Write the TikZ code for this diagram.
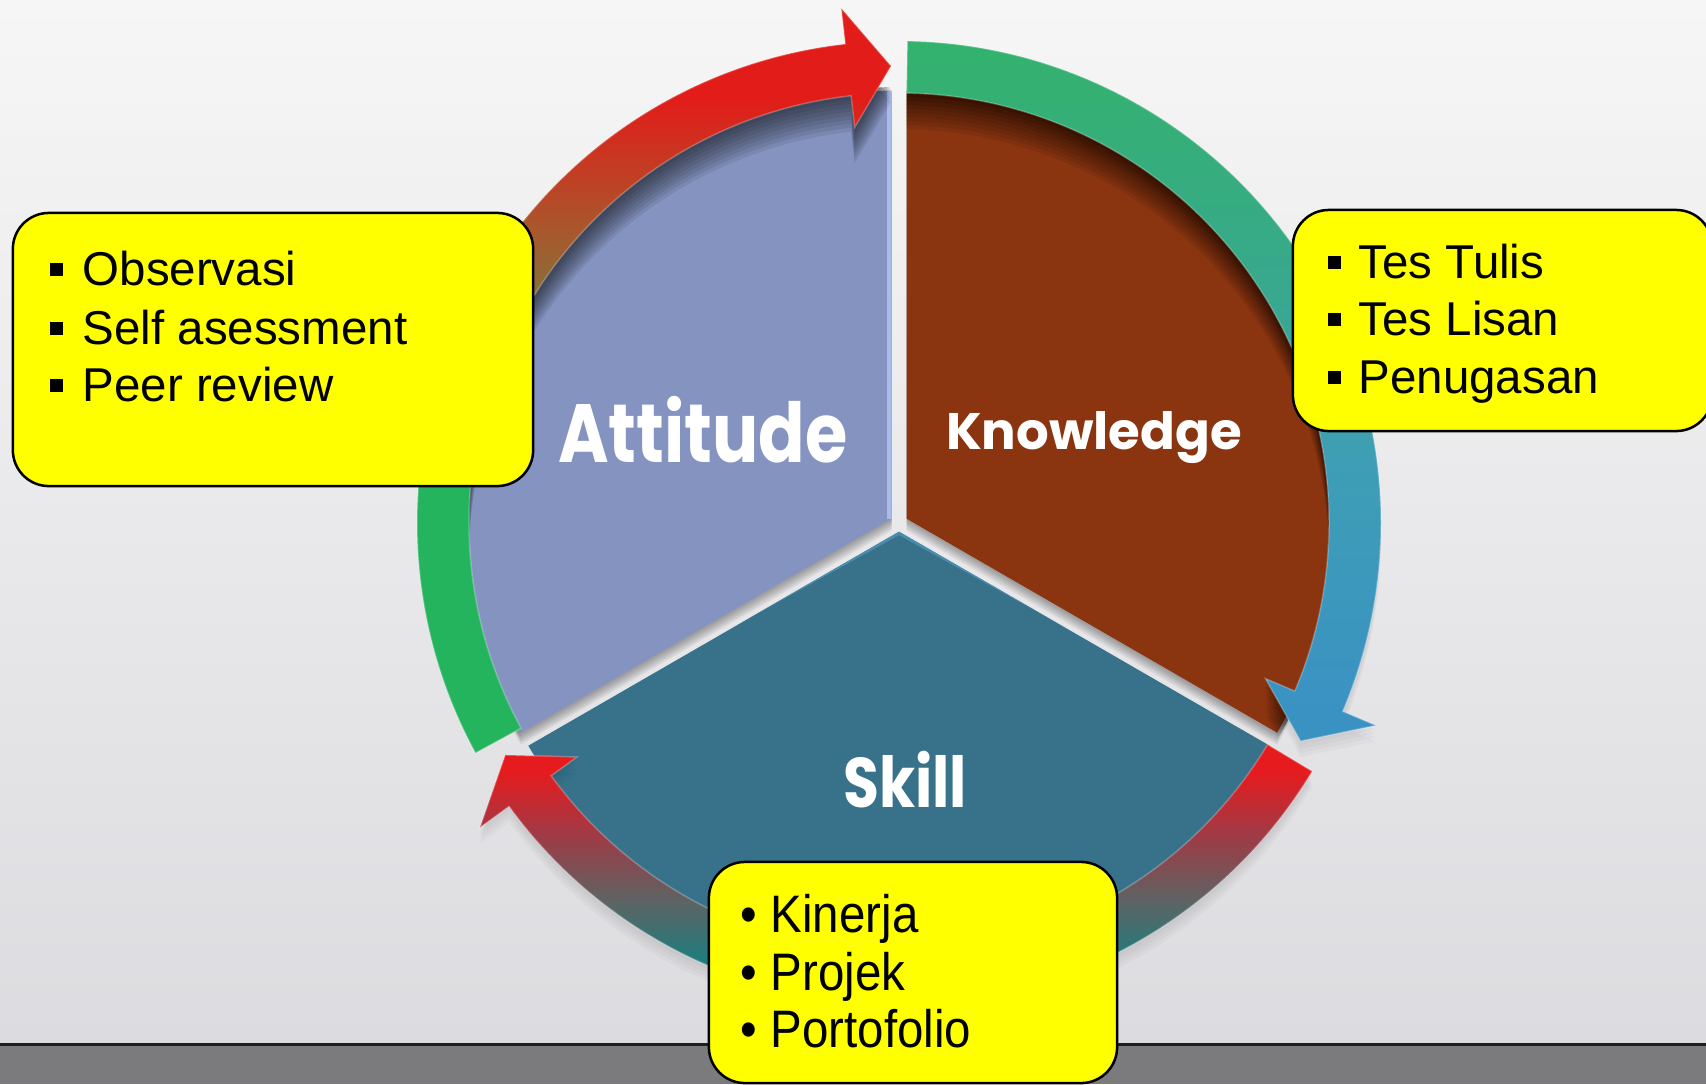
\documentclass[tikz,border=0pt]{standalone}
\usepackage{fontspec}
\setmainfont{Liberation Sans}
\newfontfamily\titlefont{Poppins}
\newfontfamily\titlecond{Poppins}[FakeStretch=0.83]
\newfontfamily\condfont{Liberation Sans}[FakeStretch=0.9]
\usetikzlibrary{calc}

\definecolor{bgtop}{HTML}{F6F6F6}
\definecolor{bgbot}{HTML}{DCDBDF}
\definecolor{floorc}{HTML}{7B7A7D}
\definecolor{floorline}{HTML}{1E1E1E}
\definecolor{attc}{HTML}{8493C0}
\definecolor{attedge}{HTML}{A9BBEA}
\definecolor{knoc}{HTML}{8A3410}
\definecolor{skic}{HTML}{37718A}
\definecolor{skiedge}{HTML}{4A8CAB}
\definecolor{boxy}{HTML}{FFFF00}

\definecolor{aGreen}{HTML}{25B45E}
\definecolor{aBrown}{HTML}{A8582C}
\definecolor{aRed}{HTML}{E21C19}
\pgfdeclareverticalshading{shadeA}{100bp}{color(0bp)=(aGreen); color(43bp)=(aGreen); color(60bp)=(aBrown); color(69bp)=(aRed); color(100bp)=(aRed)}

\definecolor{bBlue}{HTML}{3A92C3}
\definecolor{bTeal}{HTML}{3E9EB5}
\definecolor{bTealB}{HTML}{38A88E}
\definecolor{bGreen}{HTML}{33B26C}
\pgfdeclareverticalshading{shadeB}{100bp}{color(0bp)=(bBlue); color(27bp)=(bBlue); color(45bp)=(bTeal); color(57bp)=(bTealB); color(75bp)=(bGreen); color(100bp)=(bGreen)}

\definecolor{cTeal}{HTML}{0E8585}
\definecolor{cTealB}{HTML}{1A7F80}
\definecolor{cGray}{HTML}{5C6464}
\definecolor{cRose}{HTML}{A03A45}
\definecolor{cRed}{HTML}{E61B1E}
\pgfdeclareverticalshading{shadeC}{100bp}{color(0bp)=(cTeal); color(25bp)=(cTeal); color(33bp)=(cTealB); color(45bp)=(cGray); color(58bp)=(cRose); color(70bp)=(cRed); color(100bp)=(cRed)}

% sector paths (relative to the centre of the cycle)
\def\PathAtt{(-7.5,4.35) -- ++(90:428) arc[start angle=90,end angle=210,radius=428] -- cycle}
\def\PathKno{(7.5,4.35) -- ++(-30:428) arc[start angle=-30,end angle=90,radius=428] -- cycle}
\def\PathSki{(0,-8.7) -- ++(210:428) arc[start angle=210,end angle=330,radius=428] -- cycle}
% curved arrows of the ring
\def\PathArrA{(208.5:482) arc[start angle=208.5,end angle=96.4,radius=482] -- (96.4:518) -- (91:457) -- (96.4:398) -- (96.4:430) arc[start angle=96.4,end angle=208.5,radius=430] -- cycle}
\def\PathArrB{(89:482) arc[start angle=89,end angle=-23,radius=482] -- (-23:518) -- (-28.5:457) -- (-23:398) -- (-23:430) arc[start angle=-23,end angle=89,radius=430] -- cycle}
\def\PathArrC{(-31:482) arc[start angle=-31,end angle=-144,radius=482] -- (-144:518) -- (-149.5:457) -- (-144:398) -- (-144:430) arc[start angle=-144,end angle=-31,radius=430] -- cycle}

\newcommand\sqb{\rule[0.09cm]{0.13cm}{0.13cm}}

\begin{document}
\begin{tikzpicture}[x=0.01cm,y=0.01cm,
  ybox/.style={draw=black, line width=0.025cm, fill=boxy, rounded corners=0.36cm, inner sep=0pt},
  itemLR/.style={anchor=base west, inner sep=0pt, font=\fontsize{13.5pt}{16pt}\selectfont},
  itemB/.style={anchor=base west, inner sep=0pt, font=\condfont\fontsize{15pt}{18pt}\selectfont},
  ttl/.style={anchor=base, inner sep=0pt, text=white}]
\clip (0,0) rectangle (1706,-1084);
% background and floor
\shade[top color=bgtop, bottom color=bgbot] (0,0) rectangle (1706,-1044);
\fill[floorc] (0,-1044) rectangle (1706,-1084);
\draw[floorline, line width=0.03cm] (0,-1044) -- (1706,-1044);

\begin{scope}[shift={(899,-523)}]
  % shadows of the upper sectors into the gaps
  \foreach \d in {2,4,...,12} {
    \fill[black, fill opacity=0.06, shift={(0,-\d)}] \PathAtt;
    \fill[black, fill opacity=0.06, shift={(0,-\d)}] \PathKno;
  }
  % sectors
  \fill[skic] \PathSki;
  \fill[attc] \PathAtt;
  \fill[knoc] \PathKno;
  \begin{scope}\clip \PathAtt; \draw[attedge, line width=0.1cm] (-7.5,4.35) -- ++(90:428); \end{scope}
  \begin{scope}\clip \PathSki; \draw[skiedge, line width=0.06cm] (210:440) -- (0,-8.7) -- (330:440); \end{scope}
  % shadows of the ring onto the sectors
  \begin{scope}
    \clip (0,0) circle[radius=436];
    \foreach \d in {4,8,...,36} {
      \fill[black, fill opacity=0.075, shift={(0,-\d)}] \PathArrA;
      \fill[black, fill opacity=0.075, shift={(0,-\d)}] \PathArrB;
    }
  \end{scope}
  % light shadows onto the background
  \foreach \d in {4,8,12,16} {
    \fill[black, fill opacity=0.025, shift={(0,-\d)}] \PathArrB;
    \fill[black, fill opacity=0.025, shift={(0,-\d)}] \PathArrC;
  }
  % ring arrows
  \shade[shading=shadeA] \PathArrA;
  \shade[shading=shadeB] \PathArrB;
  \shade[shading=shadeC] \PathArrC;
  \draw[white, draw opacity=0.25, line width=0.015cm] \PathArrA;
  \draw[white, draw opacity=0.25, line width=0.015cm] \PathArrB;
  \draw[white, draw opacity=0.25, line width=0.015cm] \PathArrC;
\end{scope}

% titles
\node[ttl, font=\titlecond\bfseries\fontsize{23.5pt}{28pt}\selectfont] (att) at (703,-462) {Attitude};
\node[ttl, font=\titlefont\bfseries\fontsize{14.6pt}{17pt}\selectfont] (kno) at (1094,-449) {Knowledge};
\node[ttl, font=\titlecond\bfseries\fontsize{20pt}{24pt}\selectfont] (ski) at (905,-807) {Skill};

% yellow boxes
\node[ybox, minimum width=5.2cm, minimum height=2.73cm] (boxL) at (273,-349.5) {};
\node[ybox, minimum width=4.19cm, minimum height=2.21cm] (boxR) at (1502.5,-320.5) {};
\node[ybox, minimum width=4.08cm, minimum height=2.21cm] (boxB) at (913,-972.5) {};

% texts of the left box
\node[itemLR] (o1) at (49,-285) {\makebox[0.33cm][l]{\sqb}Observasi};
\node[itemLR] (o2) at (49,-344) {\makebox[0.33cm][l]{\sqb}Self asessment};
\node[itemLR] (o3) at (49,-401) {\makebox[0.33cm][l]{\sqb}Peer review};
% texts of the right box
\node[itemLR] (t1) at (1327,-278) {\makebox[0.31cm][l]{\sqb}Tes Tulis};
\node[itemLR] (t2) at (1327,-335) {\makebox[0.31cm][l]{\sqb}Tes Lisan};
\node[itemLR] (t3) at (1327,-393) {\makebox[0.31cm][l]{\sqb}Penugasan};
% texts of the bottom box
\node[itemB] (k1) at (740,-932) {\makebox[0.30cm][l]{•}Kinerja};
\node[itemB] (k2) at (740,-990) {\makebox[0.30cm][l]{•}Projek};
\node[itemB] (k3) at (740,-1047) {\makebox[0.30cm][l]{•}Portofolio};
\end{tikzpicture}
\end{document}
